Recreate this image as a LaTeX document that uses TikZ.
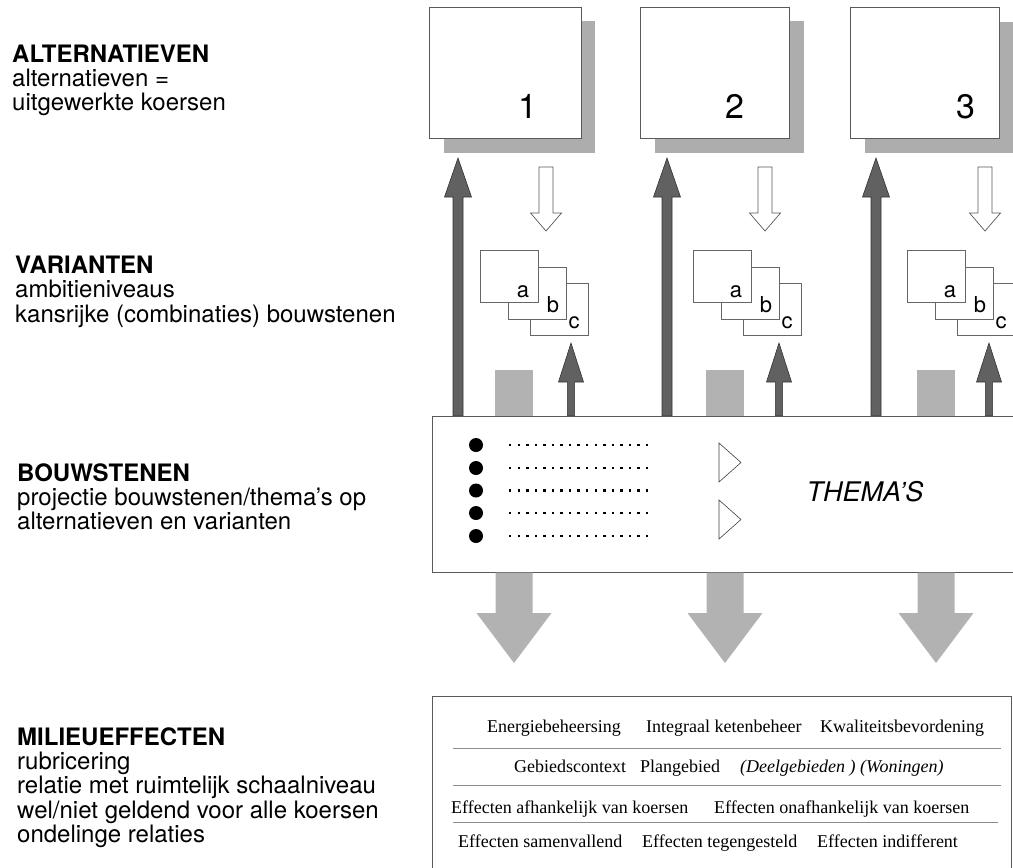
\documentclass[tikz,border=0pt]{standalone}
\usepackage{fontspec}
\setmainfont{TeX Gyre Heros}
\newfontfamily\timesrm{Liberation Serif}
\newcommand{\mkblockarrow}[7]{% x, tip y, tail y, shaft half, head half, head base y, style
  \path[#7] ({#1-#4},#3) -- ({#1-#4},#6) -- ({#1-#5},#6) -- (#1,#2) -- ({#1+#5},#6) -- ({#1+#4},#6) -- ({#1+#4},#3) -- cycle;}
\begin{document}
\begin{tikzpicture}[x=1pt,y=-1pt,
  boxline/.style={draw=black!65, line width=0.8pt, fill=white, inner sep=0pt, anchor=north west},
  shadowfill/.style={fill=black!32},
  darkarrow/.style={fill=black!62, draw=black!80, line width=0.6pt},
  lightfill/.style={fill=black!30},
  hollowarrow/.style={fill=white, draw=black!65, line width=0.7pt},
  lbl/.style={anchor=base west, inner sep=0pt, font=\fontsize{24}{24}\selectfont},
  hd/.style={lbl, font=\bfseries\fontsize{24}{24}\selectfont},
  num/.style={anchor=base, inner sep=0pt, font=\fontsize{34}{34}\selectfont},
  subbox/.style={draw=black!60, line width=0.7pt, fill=white, inner sep=0pt, anchor=north west, minimum width=57.5pt, minimum height=51.5pt},
  sublbl/.style={anchor=base, inner sep=0pt, font=\fontsize{22}{22}\selectfont},
  eff/.style={anchor=base west, inner sep=0pt, font=\timesrm\fontsize{18}{18}\selectfont},
  sepline/.style={draw=black!45, line width=0.6pt},
  dotline/.style={line width=2.4pt, dash pattern=on 2.4pt off 6.16pt},
  tri/.style={draw=black!75, line width=0.6pt, fill=white}
]
\useasboundingbox (0,0) rectangle (1013,868);
\clip (0,0) rectangle (1013,868);

% ---------- left texts ----------
\node[hd]  (altH) at (12,62)  {ALTERNATIEVEN};
\node[lbl] (alt2) at (12,86)  {alternatieven =};
\node[lbl] (alt3) at (12,110) {uitgewerkte koersen};

\node[hd]  (varH) at (15,273) {VARIANTEN};
\node[lbl] (var2) at (15,297) {ambitieniveaus};
\node[lbl] (var3) at (15,322) {kansrijke (combinaties) bouwstenen};

\node[hd]  (bouH) at (17,481) {BOUWSTENEN};
\node[lbl] (bou2) at (17,505) {projectie bouwstenen/thema’s op};
\node[lbl] (bou3) at (17,529) {alternatieven en varianten};

\node[hd]  (milH) at (17,745) {MILIEUEFFECTEN};
\node[lbl] (mil2) at (17,769) {rubricering};
\node[lbl] (mil3) at (17,793) {relatie met ruimtelijk schaalniveau};
\node[lbl] (mil4) at (17,818) {wel/niet geldend voor alle koersen};
\node[lbl] (mil5) at (17,842) {ondelinge relaties};

% ---------- alternatives boxes with shadows ----------
\fill[shadowfill] (444,21) rectangle (595,153);
\fill[shadowfill] (655,21) rectangle (804,153);
\fill[shadowfill] (865,22) rectangle (1014,153);
\node[boxline, minimum width=152pt, minimum height=131pt] (A1) at (429,7) {};
\node[boxline, minimum width=149pt, minimum height=131pt] (A2) at (640,7) {};
\node[boxline, minimum width=149pt, minimum height=131pt] (A3) at (850,7) {};
\node[num] (n1) at (528,118) {1};
\node[num] (n2) at (735,118) {2};
\node[num] (n3) at (966,118) {3};

% ---------- arrows between levels ----------
\foreach \bx/\sx/\hx/\rx in {458/571/546/495, 667/779/765/706, 876/989/985/917}{
  \mkblockarrow{\bx}{158}{416}{5}{13.5}{197}{darkarrow}
  \mkblockarrow{\sx}{343}{416}{3.6}{12.5}{382}{darkarrow}
  \mkblockarrow{\hx}{231}{167}{7}{15.5}{213}{hollowarrow}
  \fill[lightfill] (\rx,370) rectangle ({\rx+38},416);
}

% ---------- variant stacks a b c ----------
\foreach \i/\dx in {1/0, 2/213, 3/427}{
  \node[subbox] (V\i c) at ({530+\dx},283) {};
  \node[sublbl] (L\i c) at ({574+\dx},328) {c};
  \node[subbox] (V\i b) at ({508+\dx},267) {};
  \node[sublbl] (L\i b) at ({553+\dx},312) {b};
  \node[subbox] (V\i a) at ({480+\dx},250) {};
  \node[sublbl] (L\i a) at ({523+\dx},297) {a};
}

% ---------- THEMA'S box ----------
\node[boxline, minimum width=620pt, minimum height=156pt] (TH) at (432,416) {};
\foreach \k/\yy in {1/445, 2/468, 3/490.5, 4/513, 5/536}{
  \node[circle, fill=black, minimum size=14pt, inner sep=0pt] (B\k) at (476,\yy) {};
  \coordinate (D\k s) at (509,\yy);
  \coordinate (D\k e) at (650,\yy);
  \draw[dotline] (D\k s) -- (D\k e);
}
\draw[tri] (719,443) -- (741,462.5) -- (719,482) -- cycle;
\draw[tri] (719,500) -- (741,519.5) -- (719,539) -- cycle;
\node[anchor=base, inner sep=0pt, font=\itshape\fontsize{27}{27}\selectfont] (THL) at (865,501) {THEMA’S};

% ---------- down arrows ----------
\foreach \cx in {514, 725, 936}{
  \mkblockarrow{\cx}{663}{572.5}{18.5}{37.5}{613}{lightfill}
}

% ---------- effects box ----------
\node[boxline, minimum width=579pt, minimum height=200pt] (EF) at (432,696) {};
\draw[sepline] (453,748) -- (1001,748);
\draw[sepline] (453,785) -- (1001,785);
\draw[sepline] (453,822) -- (998,822);

\node[eff] (e11) at (487,732) {Energiebeheersing};
\node[eff] (e12) at (646,732) {Integraal ketenbeheer};
\node[eff] (e13) at (820,732) {Kwaliteitsbevordening};

\node[eff] (e21) at (514,772) {Gebiedscontext};
\node[eff] (e22) at (640,772) {Plangebied};
\node[eff, font=\timesrm\itshape\fontsize{18}{18}\selectfont] (e23) at (740,772) {(Deelgebieden ) (Woningen)};

\node[eff] (e31) at (451,813) {Effecten afhankelijk van koersen};
\node[eff] (e32) at (714,813) {Effecten onafhankelijk van koersen};

\node[eff] (e41) at (458,847) {Effecten samenvallend};
\node[eff] (e42) at (642,847) {Effecten tegengesteld};
\node[eff] (e43) at (817,847) {Effecten indifferent};
\end{tikzpicture}
\end{document}
